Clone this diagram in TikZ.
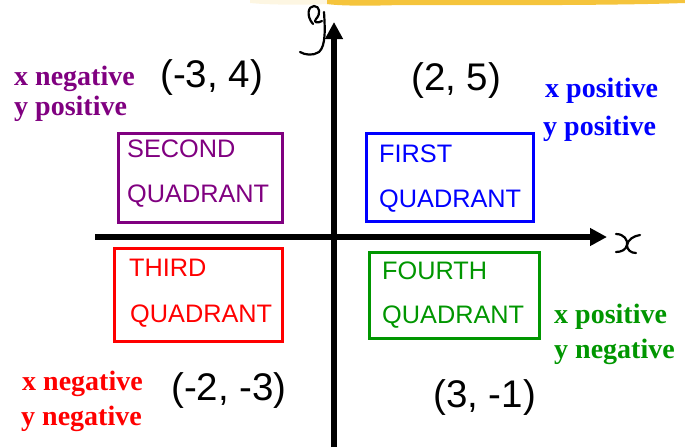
\documentclass[tikz,border=0pt]{standalone}
\usepackage{fontspec}
\setmainfont{Liberation Serif}
\newfontfamily\arialfont{Liberation Sans}
\usetikzlibrary{arrows.meta}
\definecolor{qpurple}{RGB}{128,0,128}
\definecolor{qblue}{RGB}{0,0,255}
\definecolor{qred}{RGB}{255,0,0}
\definecolor{qgreen}{RGB}{0,150,0}
\definecolor{smudge}{RGB}{245,196,60}
\tikzset{
  qbox/.style={draw, line width=3pt, inner sep=0pt},
  qtext/.style={anchor=base west, inner sep=0pt, font=\arialfont\fontsize{25.3}{27}\selectfont},
  coordtext/.style={anchor=base west, inner sep=0pt, font=\arialfont\fontsize{38.5}{40}\selectfont},
  signtext/.style={anchor=base west, inner sep=0pt, font=\bfseries\fontsize{28}{30}\selectfont},
  axis/.style={line width=5.5pt, -{Triangle[length=17pt,width=17pt]}},
  hand/.style={line width=2.2pt, line cap=round, line join=round}
}
\begin{document}
\begin{tikzpicture}[x=1pt,y=-1pt]
\useasboundingbox (0,0) rectangle (685,447);
% highlight smudge at top
\fill[smudge!25, opacity=0.6] (250,0) -- (330,0) -- (330,4) .. controls (300,5) and (270,5) .. (250,3) -- cycle;
\fill[smudge] (327,0) -- (685,0) -- (685,3) .. controls (600,6) and (450,5) .. (400,5) .. controls (370,6) and (340,6) .. (327,4) -- cycle;
% axes
\coordinate (xstart) at (95,237);
\coordinate (xend) at (607,237);
\coordinate (ystart) at (334,447);
\coordinate (yend) at (334,22);
\draw[axis] (xstart) -- (xend);
\draw[axis] (ystart) -- (yend);
% handwritten axis labels
\draw[hand] (313,24) .. controls (306,16) and (308,6) .. (314,6) .. controls (320,6) and (321,14) .. (316,19) .. controls (313,22) and (317,24) .. (322,21);
\draw[hand] (324,12) .. controls (325,28) and (326,46) .. (319,52) .. controls (313,56) and (305,55) .. (300,52);
\draw[hand] (616,234) .. controls (624,234) and (628,240) .. (627,245) .. controls (626,250) and (621,252) .. (616,252);
\draw[hand] (640,235) .. controls (633,236) and (628,240) .. (627,245) .. controls (627,250) and (631,253) .. (636,253);
% quadrant boxes
\node[qbox, draw=qblue, minimum width=167pt, minimum height=88pt] (q1) at (450,177.5) {};
\node[qbox, draw=qpurple, minimum width=164pt, minimum height=89pt] (q2) at (200,177.5) {};
\node[qbox, draw=qred, minimum width=168pt, minimum height=93pt] (q3) at (198,294.5) {};
\node[qbox, draw=qgreen, minimum width=170pt, minimum height=86pt] (q4) at (454,295) {};
% box texts
\node[qtext, text=qblue] (q1a) at (379,162) {FIRST};
\node[qtext, text=qblue] (q1b) at (379,207) {QUADRANT};
\node[qtext, text=qpurple] (q2a) at (127,157) {SECOND};
\node[qtext, text=qpurple] (q2b) at (127,202) {QUADRANT};
\node[qtext, text=qred] (q3a) at (129,276) {THIRD};
\node[qtext, text=qred] (q3b) at (130,322) {QUADRANT};
\node[qtext, text=qgreen] (q4a) at (382,279) {FOURTH};
\node[qtext, text=qgreen] (q4b) at (382,323) {QUADRANT};
% coordinates
\node[coordtext] (c2) at (160,87) {(-3, 4)};
\node[coordtext] (c1) at (411,90) {(2, 5)};
\node[coordtext] (c3) at (171,400) {(-2, -3)};
\node[coordtext] (c4) at (433,407) {(3, -1)};
% sign texts
\node[signtext, text=qpurple] (s2a) at (14,85) {x negative};
\node[signtext, text=qpurple] (s2b) at (14,115) {y positive};
\node[signtext, text=qblue] (s1a) at (545,97) {x positive};
\node[signtext, text=qblue] (s1b) at (543,135) {y positive};
\node[signtext, text=qgreen] (s4a) at (554,323) {x positive};
\node[signtext, text=qgreen] (s4b) at (554,358) {y negative};
\node[signtext, text=qred] (s3a) at (22,390) {x negative};
\node[signtext, text=qred] (s3b) at (21,425) {y negative};
\end{tikzpicture}
\end{document}
